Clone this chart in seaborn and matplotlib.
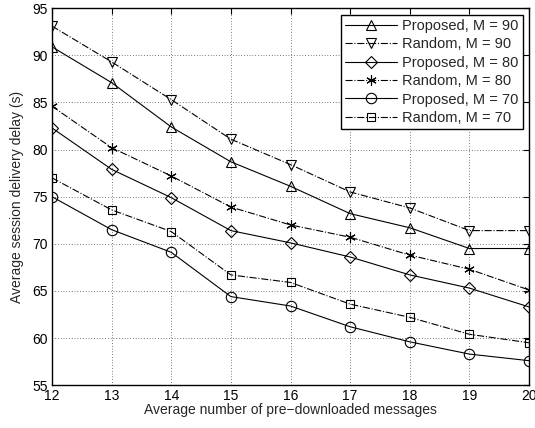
import numpy as np
import pandas as pd
import matplotlib
matplotlib.use("Agg")
import matplotlib.pyplot as plt
import seaborn as sns

# ---------- data ----------
x_msgs = [12, 13, 14, 15, 16, 17, 18, 19, 20]

prop_90 = [90.9, 87.1, 82.4, 78.7, 76.1, 73.2, 71.7, 69.5, 69.5]
rand_90 = [93.1, 89.3, 85.3, 81.1, 78.4, 75.5, 73.8, 71.4, 71.4]
prop_80 = [82.3, 77.9, 74.9, 71.4, 70.1, 68.6, 66.7, 65.3, 63.3]
rand_80 = [84.6, 80.2, 77.2, 73.9, 72.0, 70.7, 68.8, 67.3, 65.1]
prop_70 = [75.0, 71.5, 69.1, 64.4, 63.4, 61.2, 59.6, 58.3, 57.6]
rand_70 = [77.0, 73.6, 71.3, 66.7, 65.9, 63.6, 62.2, 60.4, 59.5]

series_names = ["Proposed, M = 90", "Random, M = 90",
                "Proposed, M = 80", "Random, M = 80",
                "Proposed, M = 70", "Random, M = 70"]
series_vals = [prop_90, rand_90, prop_80, rand_80, prop_70, rand_70]

# ---------- styling ----------
styles = {
    "Proposed, M = 90": dict(marker="^", ls="-"),
    "Random, M = 90":   dict(marker="v", ls="-."),
    "Proposed, M = 80": dict(marker="D", ls="-", ms=6),
    "Random, M = 80":   dict(marker=(6, 2, 0), ls="-."),
    "Proposed, M = 70": dict(marker="o", ls="-"),
    "Random, M = 70":   dict(marker="s", ls="-.", ms=6),
}

df = pd.DataFrame({
    "x": np.tile(x_msgs, len(series_names)),
    "y": np.concatenate(series_vals),
    "series": np.repeat(series_names, len(x_msgs)),
})

sns.set_style("white")
plt.rcParams["font.family"] = ["Liberation Sans", "DejaVu Sans"]
fs = 10

fig = plt.figure(figsize=(5.35, 4.28), dpi=100)
ax = fig.add_axes([0.097, 0.100, 0.892, 0.881])

for name in series_names:
    st = styles[name]
    sub = df[df["series"] == name]
    ms = st.get("ms", 7.5)
    sns.lineplot(data=sub, x="x", y="y", ax=ax, color="black", lw=0.8,
                 linestyle=st["ls"], marker=st["marker"], markersize=ms,
                 markerfacecolor="none", markeredgecolor="black",
                 markeredgewidth=0.8, label=name)

ax.set_xlim(12, 20)
ax.set_ylim(55, 95)
ax.set_xticks(range(12, 21))
ax.set_yticks(range(55, 96, 5))
ax.grid(True, color="black", linestyle=(0, (1, 3)), linewidth=0.5)
ax.tick_params(direction="in", top=True, right=True, length=4, width=0.8,
               colors="black", labelsize=fs, pad=3)
for sp in ax.spines.values():
    sp.set_visible(True)
    sp.set_color("black")
    sp.set_linewidth(1.0)

ax.set_xlabel("Average number of pre\u2212downloaded messages", fontsize=fs, labelpad=0)
ax.set_ylabel("Average session delivery delay (s)", fontsize=fs, labelpad=6)

leg = ax.legend(loc="upper right", fontsize=10.5, frameon=True, fancybox=False,
                edgecolor="black", framealpha=1, handlelength=3.6,
                borderaxespad=0.45, labelspacing=0.3, handletextpad=0.3,
                borderpad=0.3)
leg.get_frame().set_linewidth(1.0)

fig.savefig("out.png", dpi=100)
